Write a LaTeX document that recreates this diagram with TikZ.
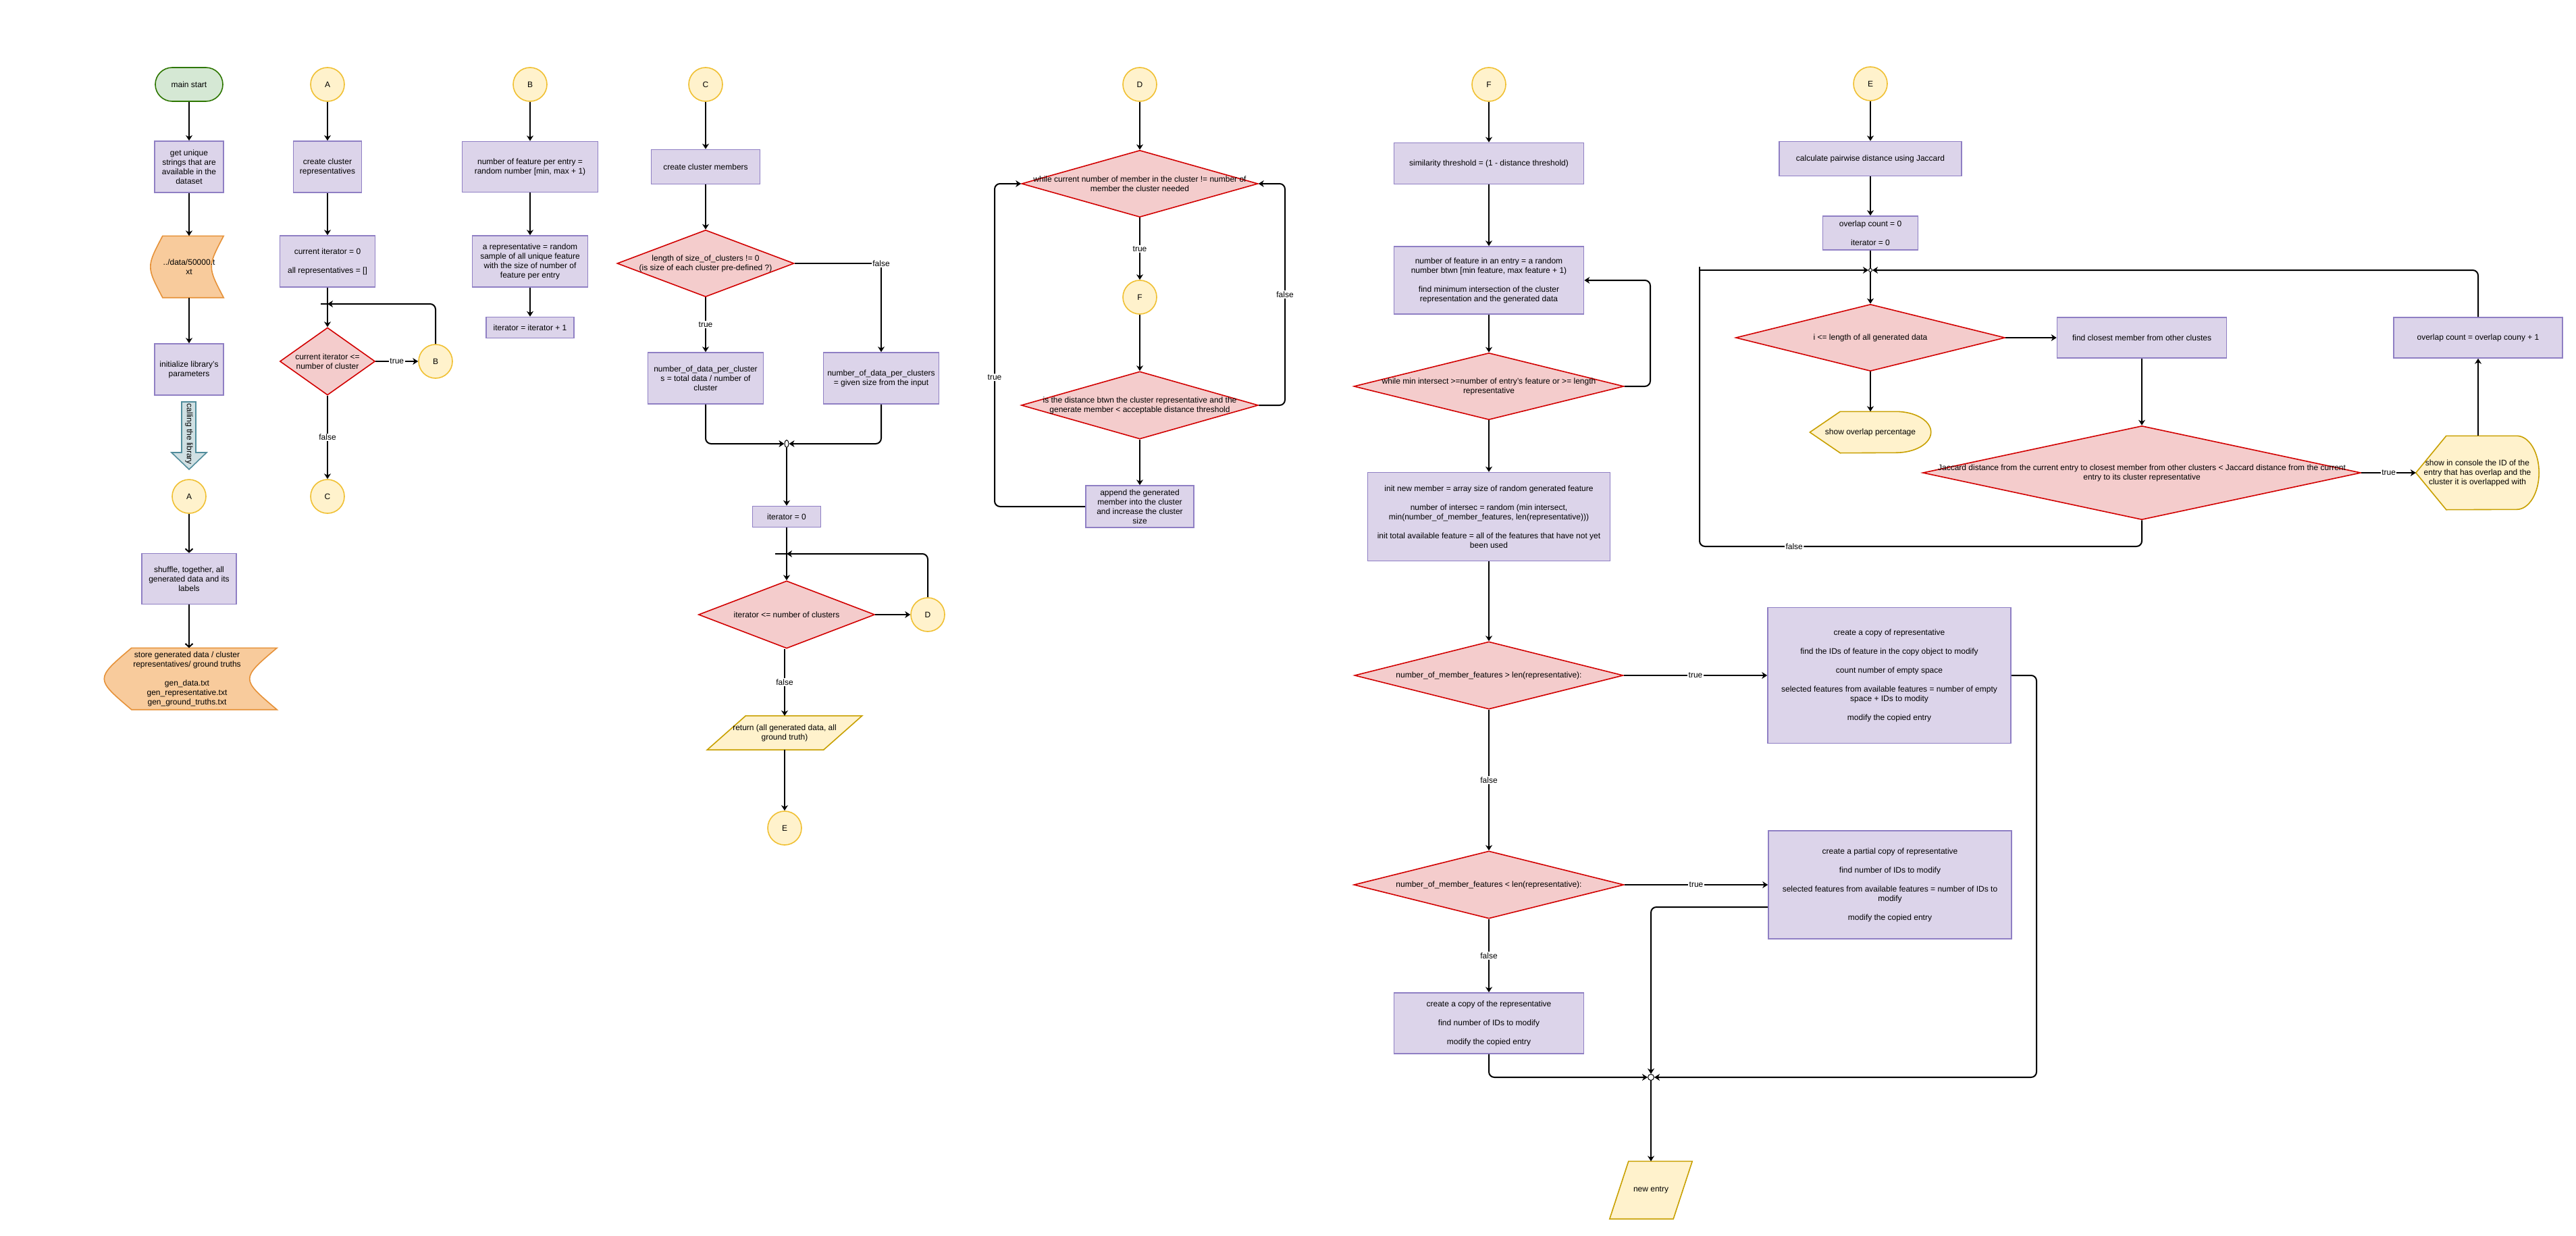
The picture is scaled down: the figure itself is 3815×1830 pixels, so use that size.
\documentclass[tikz,border=0pt]{standalone}
\usepackage{fontspec}
\setmainfont{Liberation Sans}
\usetikzlibrary{shapes.geometric,arrows.meta,backgrounds}
\definecolor{procfill}{RGB}{220,212,234}
\definecolor{procline}{RGB}{143,127,196}
\definecolor{decfill}{RGB}{244,204,204}
\definecolor{decline}{RGB}{210,0,0}
\definecolor{confill}{RGB}{255,242,204}
\definecolor{conline}{RGB}{240,192,50}
\definecolor{ioline}{RGB}{200,160,0}
\definecolor{orfill}{RGB}{248,203,156}
\definecolor{orline}{RGB}{230,145,56}
\definecolor{grfill}{RGB}{213,232,212}
\definecolor{grline}{RGB}{45,118,0}
\definecolor{blfill}{RGB}{208,224,227}
\definecolor{blline}{RGB}{80,140,155}
\begin{document}
\begin{tikzpicture}[x=1pt,y=-1pt,
  every node/.style={font=\fontsize{12}{14}\selectfont, align=center, inner sep=1pt},
  proc/.style={rectangle, draw=procline, fill=procfill, line width=1.6pt},
  dec/.style={diamond, draw=decline, fill=decfill, line width=1.6pt, inner sep=0pt},
  con/.style={ellipse, draw=conline, fill=confill, line width=1.6pt, inner sep=0pt, minimum width=50pt, minimum height=50pt},
  lbl/.style={fill=white, inner sep=1.5pt},
  arr/.style={line width=2pt, -{Stealth[length=8pt,width=10pt,inset=2.5pt]}},
  oarr/.style={line width=2pt, -{Straight Barb[length=5pt,width=11pt]}},
  ln/.style={line width=2pt},
  jn/.style={draw=black, fill=white, line width=1pt, inner sep=0pt},
  iosh/.style={draw=ioline, fill=confill, line width=1.6pt},
  stor/.style={draw=orline, fill=orfill, line width=1.6pt},
  rc/.style={rounded corners=8pt}
]
\useasboundingbox (0,0) rectangle (3815,1830);
\begin{scope}[on background layer]
  \fill[white] (0,0) rectangle (3815,1830);
\end{scope}

% ---------------- main column ----------------
\node[draw=grline, fill=grfill, line width=1.6pt, rectangle, rounded corners=25pt, minimum width=100pt, minimum height=50pt] (start) at (280,125) {main start};
\node[proc, minimum width=102pt, minimum height=76pt] (uniq) at (280,247) {get unique\\strings that are\\available in the\\dataset};
\node[minimum width=102pt, minimum height=91pt] (dfile) at (280,395) {../data/50000.t\\xt};
\node[proc, minimum width=102pt, minimum height=76pt] (initl) at (280,547) {initialize library's\\parameters};
\node[rotate=-90] (call) at (280,643) {calling the library};
\node[con] (a2) at (280,735) {A};
\node[proc, minimum width=140pt, minimum height=75pt] (shuf) at (280,857) {shuffle, together, all\\generated data and its\\labels};
\node[minimum width=242pt, minimum height=91pt] (store) at (289,1005) {};
\node (storet) at (277,1005) {store generated data / cluster\\representatives/ ground truths\\[14pt]gen\_data.txt\\gen\_representative.txt\\gen\_ground\_truths.txt};

\draw[arr] (start) -- (uniq);
\draw[arr] (uniq) -- (dfile);
\draw[arr] (dfile) -- (initl);
\draw[oarr] (a2) -- (shuf);
\draw[oarr] (shuf) -- (shuf.south |- store.north);

% ---------------- column A ----------------
\node[con] (a1) at (485,125) {A};
\node[proc, minimum width=101pt, minimum height=76pt] (crep) at (485,247) {create cluster\\representatives};
\node[proc, minimum width=141pt, minimum height=76pt] (cit) at (485,387) {current iterator = 0\\[14pt]all representatives = []};
\coordinate (ja) at (485,450);
\node[dec, minimum width=141pt, minimum height=100pt] (da) at (485,535) {};
\node (da-t) at (da) {current iterator <=\\number of cluster};
\node[con] (b1) at (645,535) {B};
\node[con] (c1) at (485,735) {C};

\draw[arr] (a1) -- (crep);
\draw[arr] (crep) -- (cit);
\draw[arr] (cit) -- (da);
\draw[arr, rc] (b1.north) |- (ja);
\draw[ln] (ja) -- ++(-10,0);
\draw[arr] (da) -- node[lbl]{true} (b1);
\draw[arr] (da) -- node[lbl]{false} (c1);

% ---------------- column B ----------------
\node[con] (b2) at (785,125) {B};
\node[proc, minimum width=201pt, minimum height=75pt] (nfe) at (785,247) {number of feature per entry =\\random number [min, max + 1)};
\node[proc, minimum width=171pt, minimum height=76pt] (arep) at (785,387) {a representative = random\\sample of all unique feature\\with the size of number of\\feature per entry};
\node[proc, minimum width=130pt, minimum height=31pt] (itp) at (785,485) {iterator = iterator + 1};

\draw[arr] (b2) -- (nfe);
\draw[arr] (nfe) -- (arep);
\draw[arr] (arep) -- (itp);

% ---------------- column C ----------------
\node[con] (c2) at (1045,125) {C};
\node[proc, minimum width=161pt, minimum height=51pt] (ccm) at (1045,247) {create cluster members};
\node[dec, minimum width=262pt, minimum height=99pt] (dc1) at (1045,390) {};
\node (dc1-t) at (dc1) {length of size\_of\_clusters != 0\\(is size of each cluster pre-defined ?)};
\node[proc, minimum width=171pt, minimum height=76pt] (nl) at (1045,560) {number\_of\_data\_per\_cluster\\s = total data / number of\\cluster};
\node[proc, minimum width=171pt, minimum height=76pt] (nr) at (1305,560) {number\_of\_data\_per\_clusters\\= given size from the input};
\node[jn, ellipse, minimum width=6pt, minimum height=11pt] (jc) at (1165,657) {};
\node[proc, minimum width=101pt, minimum height=31pt] (it0) at (1165,765) {iterator = 0};
\coordinate (jc2) at (1165,820);
\node[dec, minimum width=261pt, minimum height=100pt] (dc2) at (1165,910) {};
\node (dc2-t) at (dc2) {iterator <= number of clusters};
\node[con] (d1) at (1374,910) {D};
\node[minimum width=172pt, minimum height=50pt] (ret) at (1162,1085) {return (all generated data, all\\ground truth)};
\node[con] (e1) at (1162,1226) {E};

\draw[arr] (c2) -- (ccm);
\draw[arr] (ccm) -- (dc1);
\draw[arr] (dc1) -- node[lbl]{true} (nl);
\draw[arr] (dc1.east) -| node[lbl]{false} (nr.north);
\draw[arr, rc] (nl.south) |- (jc.west);
\draw[arr, rc] (nr.south) |- (jc.east);
\draw[arr] (jc) -- (it0);
\draw[arr] (it0) -- (dc2);
\draw[arr] (dc2) -- (d1);
\draw[arr, rc] (d1.north) |- (jc2);
\draw[ln] (jc2) -- ++(-17,0);
\draw[arr] (dc2.south -| ret.north) -- node[lbl]{false} (ret.north);
\draw[arr] (ret) -- (e1);

% ---------------- column D ----------------
\node[con] (d2) at (1688,125) {D};
\node[dec, minimum width=350pt, minimum height=99pt] (dd1) at (1688,272) {};
\node (dd1-t) at (dd1) {while current number of member in the cluster != number of\\member the cluster needed};
\node[con] (f1) at (1688,440) {F};
\node[dec, minimum width=351pt, minimum height=100pt] (dd2) at (1688,600) {};
\node (dd2-t) at (dd2) {is the distance btwn the cluster representative and the\\generate member < acceptable distance threshold};
\node[proc, minimum width=160pt, minimum height=62pt] (app) at (1688,750) {append the generated\\member into the cluster\\and increase the cluster\\size};
\coordinate (dlx) at (1473,0);
\coordinate (drx) at (1903,0);

\draw[arr] (d2) -- (dd1);
\draw[arr] (dd1) -- node[lbl]{true} (f1);
\draw[arr] (f1) -- (dd2);
\draw[arr] (dd2) -- (app);
\draw[arr, rc] (app.west) -- (app.west -| dlx) -- node[lbl, pos=0.4]{true} (dd1.west -| dlx) -- (dd1.west);
\draw[arr, rc] (dd2.east) -- (dd2.east -| drx) -- node[lbl]{false} (dd1.east -| drx) -- (dd1.east);

% ---------------- column F ----------------
\node[con] (f2) at (2205,125) {F};
\node[proc, minimum width=281pt, minimum height=61pt] (sim) at (2205,242) {similarity threshold = (1 - distance threshold)};
\node[proc, minimum width=281pt, minimum height=100pt] (nfa) at (2205,415) {number of feature in an entry = a random\\number btwn [min feature, max feature + 1)\\[14pt]find minimum intersection of the cluster\\representation and the generated data};
\node[dec, minimum width=400pt, minimum height=99pt] (df1) at (2205,572) {};
\node (df1-t) at (df1) {while min intersect >=number of entry's feature or >= length\\representative};
\node[proc, minimum width=359pt, minimum height=131pt] (inm) at (2205,765) {init new member = array size of random generated feature\\[14pt]number of intersec = random (min intersect,\\min(number\_of\_member\_features, len(representative)))\\[14pt]init total available feature = all of the features that have not yet\\been used};
\node[dec, minimum width=398pt, minimum height=100pt] (df2) at (2205,1000) {};
\node (df2-t) at (df2) {number\_of\_member\_features > len(representative):};
\node[dec, minimum width=400pt, minimum height=100pt] (df3) at (2205,1310) {};
\node (df3-t) at (df3) {number\_of\_member\_features < len(representative):};
\node[proc, minimum width=281pt, minimum height=90pt] (cpy) at (2205,1515) {create a copy of the representative\\[14pt]find number of IDs to modify\\[14pt]modify the copied entry};
\node[proc, minimum width=360pt, minimum height=201pt] (cpt) at (2798,1000) {create a copy of representative\\[14pt]find the IDs of feature in the copy object to modify\\[14pt]count number of empty space\\[14pt]selected features from available features = number of empty\\space + IDs to modity\\[14pt]modify the copied entry};
\node[proc, minimum width=360pt, minimum height=160pt] (par) at (2799,1310) {create a partial copy of representative\\[14pt]find number of IDs to modify\\[14pt]selected features from available features = number of IDs to\\modify\\[14pt]modify the copied entry};
\node[jn, circle, minimum size=9pt] (jf) at (2445,1595) {};
\node[minimum width=94pt, minimum height=85pt] (nen) at (2445,1762) {new entry};
\coordinate (frx) at (2444,0);
\coordinate (prx) at (3016,0);

\draw[arr] (f2) -- (sim);
\draw[arr] (sim) -- (nfa);
\draw[arr] (nfa) -- (df1);
\draw[arr, rc] (df1.east) -- (df1.east -| frx) -- (nfa.east -| frx) -- (nfa.east);
\draw[arr] (df1) -- (inm);
\draw[arr] (inm) -- (df2);
\draw[arr] (df2) -- node[lbl]{true} (cpt);
\draw[arr] (df2) -- node[lbl]{false} (df3);
\draw[arr] (df3) -- node[lbl]{true} (par);
\draw[arr] (df3) -- node[lbl]{false} (cpy);
\draw[arr, rc] (cpy.south) |- (jf.west);
\draw[arr, rc] ([yshift=-33pt]par.west) -| (jf.north);
\draw[arr, rc] (cpt.east) -- (cpt.east -| prx) |- (jf.east);
\draw[arr] (jf) -- (nen);

% ---------------- column E ----------------
\node[con] (e2) at (2770,124) {E};
\node[proc, minimum width=270pt, minimum height=51pt] (cpd) at (2770,235) {calculate pairwise distance using Jaccard};
\node[proc, minimum width=141pt, minimum height=50pt] (ovc) at (2770,345) {overlap count = 0\\[14pt]iterator = 0};
\node[jn, circle, minimum size=5pt] (je) at (2770,400) {};
\node[dec, minimum width=399pt, minimum height=99pt] (de1) at (2770,500) {};
\node (de1-t) at (de1) {i <= length of all generated data};
\node[proc, minimum width=251pt, minimum height=60pt] (fcm) at (3172,500) {find closest member from other clustes};
\node[minimum width=179pt, minimum height=61pt] (sop) at (2770,640) {show overlap percentage};
\node[dec, minimum width=649pt, minimum height=139pt] (de2) at (3172,700) {};
\node (de2-t) at (de2) {Jaccard distance from the current entry to closest member from other clusters < Jaccard distance from the current\\entry to its cluster representative};
\node[minimum width=182pt, minimum height=109pt] (cons) at (3669,700) {show in console the ID of the\\entry that has overlap and the\\cluster it is overlapped with};
\node[proc, minimum width=250pt, minimum height=60pt] (ovi) at (3670,500) {overlap count = overlap couny + 1};
\coordinate (elx) at (2517,0);
\coordinate (eby) at (0,809);

\draw[arr] (e2) -- (cpd);
\draw[arr] (cpd) -- (ovc);
\draw[ln] (ovc) -- (je);
\draw[arr] (je) -- (de1);
\draw[arr] (de1) -- (fcm);
\draw[arr] (de1) -- (sop);
\draw[arr] (fcm) -- (de2);
\draw[arr] (de2) -- node[lbl]{true} (cons);
\draw[arr] (cons.north -| ovi.south) -- (ovi.south);
\draw[arr, rc] (ovi.north) |- (je.east);
\draw[ln, rc] (de2.south) -- (de2.south |- eby) -- node[lbl, pos=0.786]{false} (elx |- eby) -- (elx |- je);
\draw[arr] (elx |- je) -- (je.west);
\draw[ln] (elx |- je) -- ++(0,-5);

% ---------------- background shapes ----------------
\begin{scope}[on background layer]
  \draw[stor] ([xshift=12pt]dfile.north west) .. controls ([xshift=-12pt]dfile.west) .. ([xshift=12pt]dfile.south west) -- (dfile.south east) .. controls ([xshift=-24pt]dfile.east) .. (dfile.north east) -- cycle;
  \draw[stor] ([xshift=27pt]store.north west) .. controls ([xshift=-27pt]store.west) .. ([xshift=27pt]store.south west) -- (store.south east) .. controls ([xshift=-54pt]store.east) .. (store.north east) -- cycle;
  \draw[draw=blline, fill=blfill, line width=1.6pt] (269,595) -- (290,595) -- (290,670) -- (306,670) -- (280,695) -- (254,670) -- (269,670) -- cycle;
  \draw[iosh] ([xshift=28.5pt]ret.north west) -- ([xshift=28.5pt]ret.north east) -- ([xshift=-28.5pt]ret.south east) -- ([xshift=-28.5pt]ret.south west) -- cycle;
  \draw[iosh] ([xshift=14pt]nen.north west) -- ([xshift=14pt]nen.north east) -- ([xshift=-14pt]nen.south east) -- ([xshift=-14pt]nen.south west) -- cycle;
  \draw[iosh] (sop.west) -- ([xshift=45pt]sop.north west) -- ([xshift=-52pt]sop.north east) arc[start angle=90, end angle=-90, x radius=52pt, y radius=30.5pt] -- ([xshift=45pt]sop.south west) -- cycle;
  \draw[iosh] (cons.west) -- ([xshift=45pt]cons.north west) -- ([xshift=-33pt]cons.north east) arc[start angle=90, end angle=-90, x radius=33pt, y radius=54.5pt] -- ([xshift=45pt]cons.south west) -- cycle;
\end{scope}
\end{tikzpicture}
\end{document}
